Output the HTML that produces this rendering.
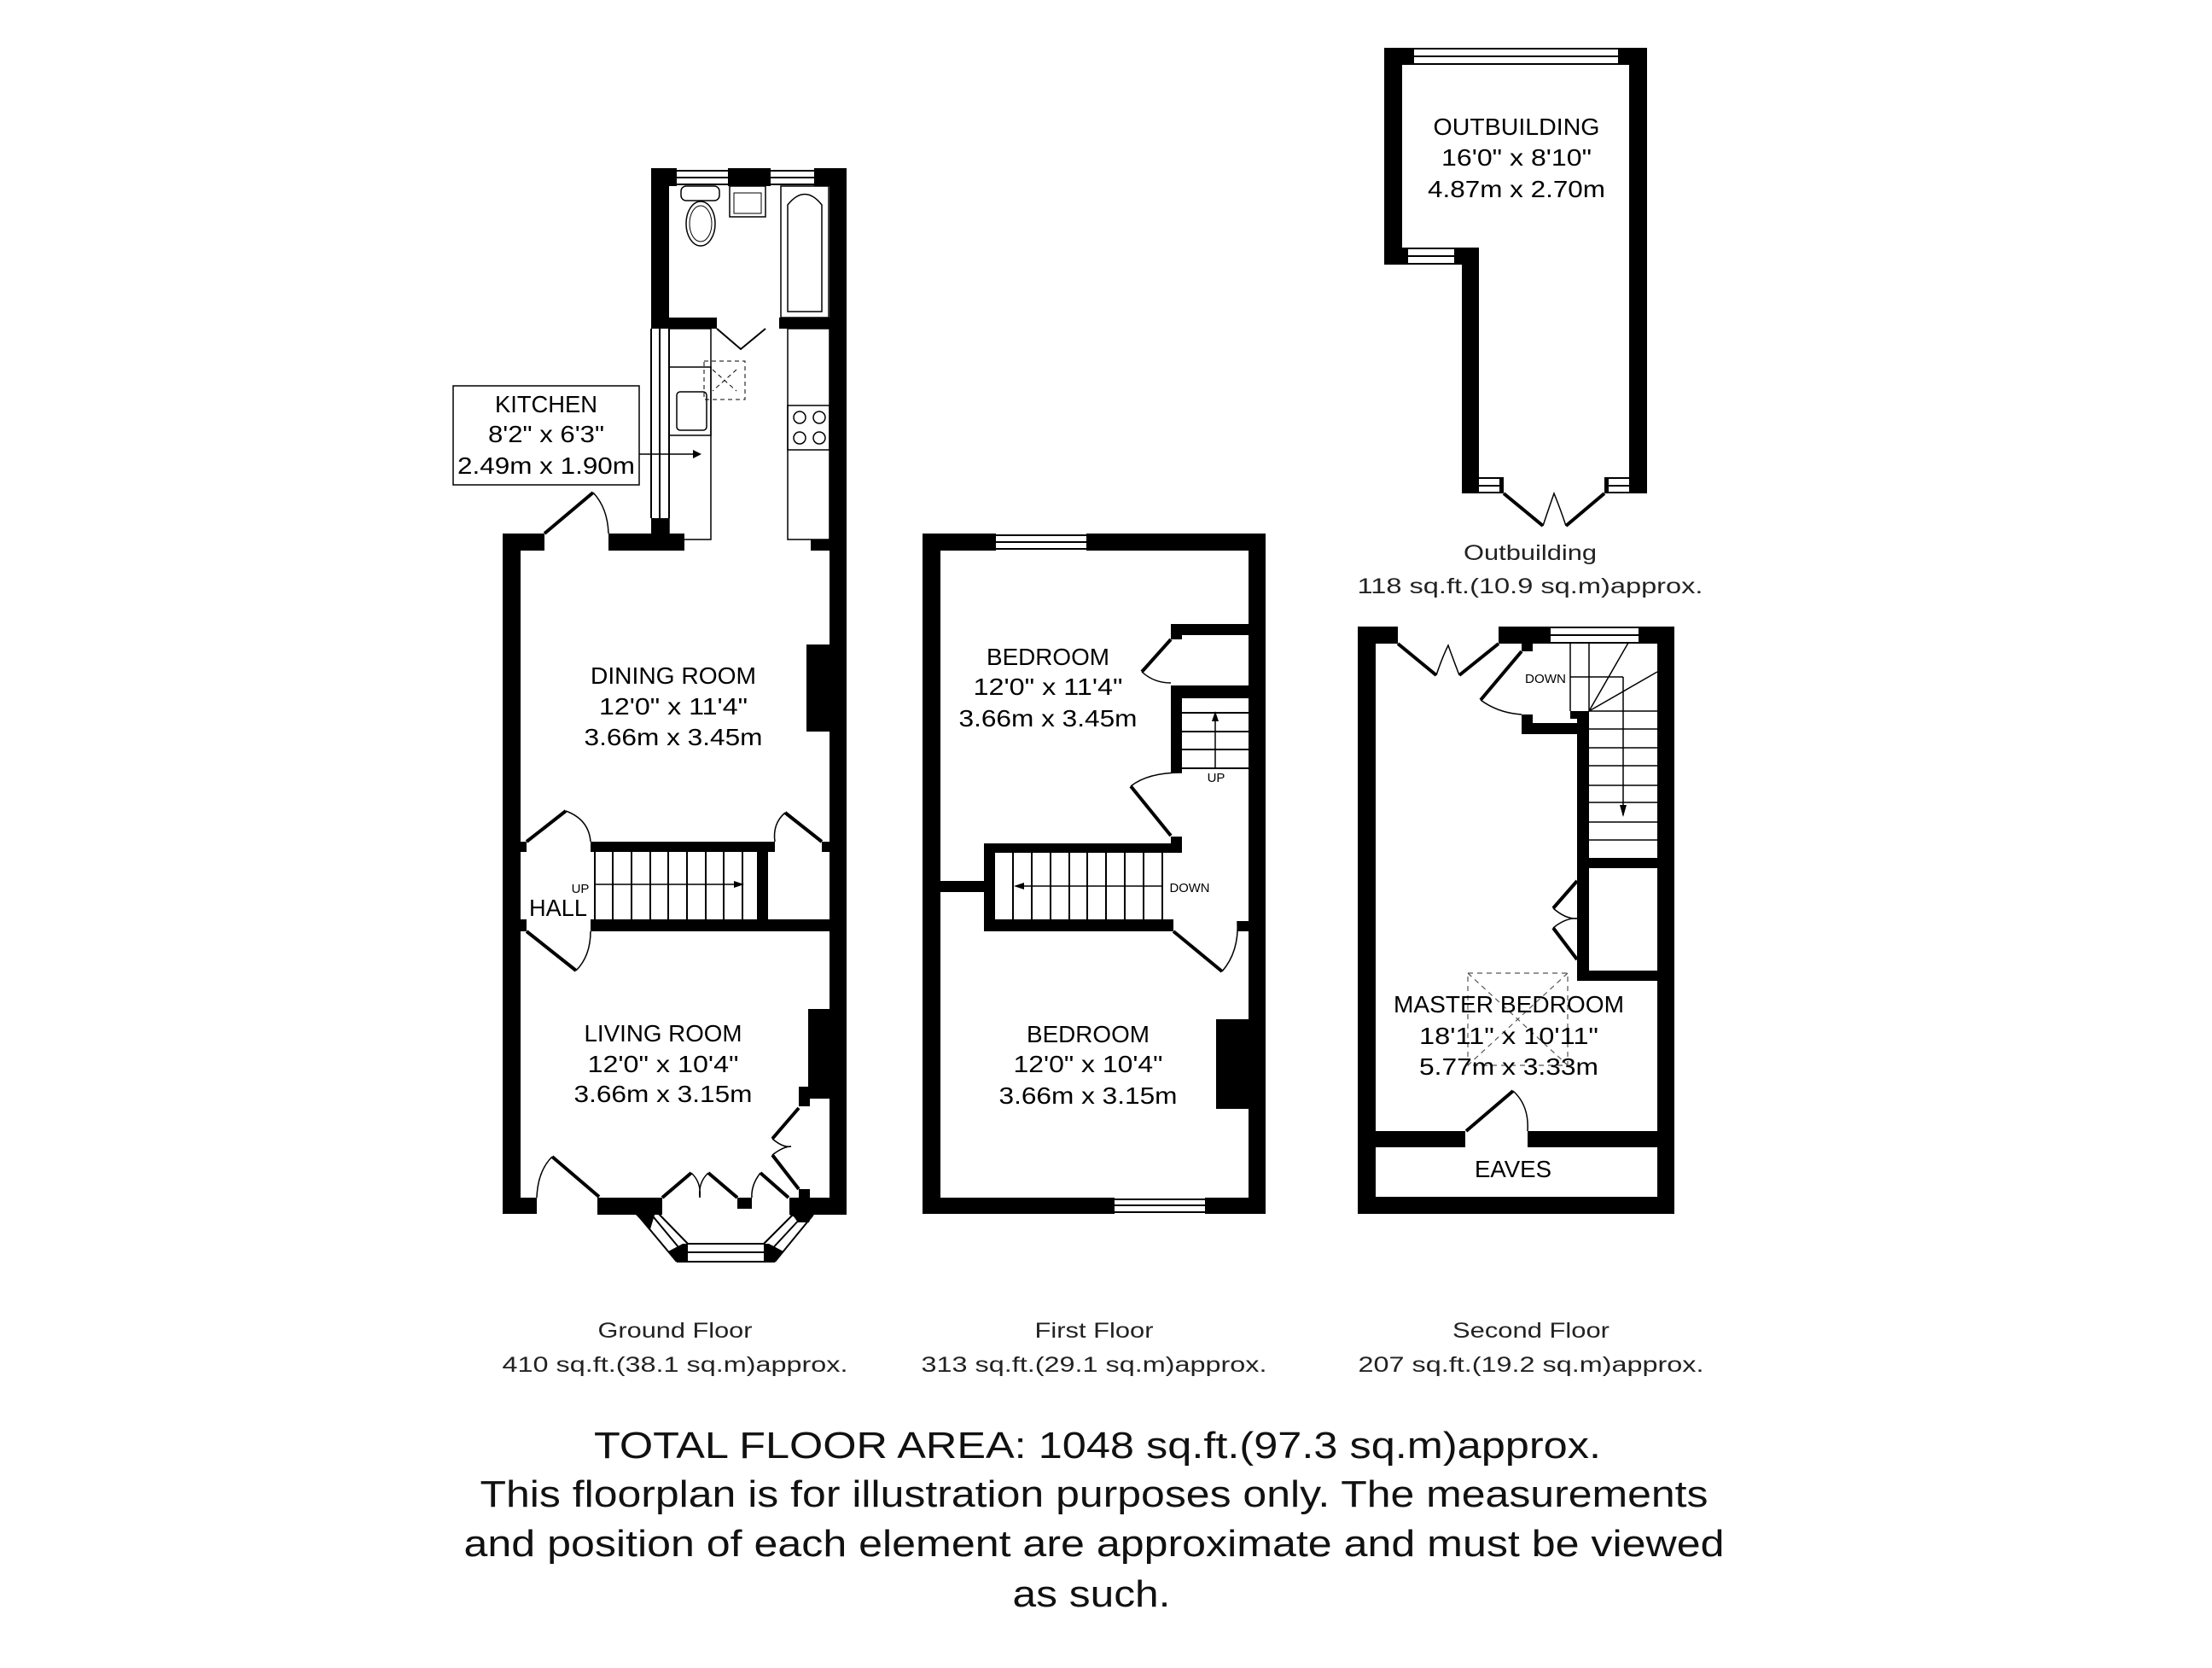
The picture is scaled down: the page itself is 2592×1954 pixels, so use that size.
<!DOCTYPE html>
<html><head><meta charset="utf-8"><style>html,body{margin:0;padding:0;background:#fff}svg{display:block}</style></head>
<body>
<svg width="2592" height="1954" viewBox="0 0 2592 1954" xmlns="http://www.w3.org/2000/svg" font-family="'Liberation Sans', sans-serif">
<rect width="2592" height="1954" fill="#fff"/>

<!-- ================= GROUND FLOOR ================= -->
<g fill="#000">
  <!-- bathroom/kitchen block -->
  <rect x="763" y="197" width="30" height="21"/>
  <rect x="853" y="197" width="50" height="21"/>
  <rect x="954" y="197" width="38" height="21"/>
  <rect x="763" y="197" width="21" height="188"/>
  <rect x="972" y="197" width="20" height="1225"/>
  <rect x="784" y="372" width="56" height="13"/>
  <rect x="913" y="372" width="59" height="13"/>
  <rect x="763" y="310" width="21" height="13"/>
  <rect x="763" y="607" width="21" height="37"/>
  <!-- dining top wall -->
  <rect x="589" y="625" width="49" height="20"/>
  <rect x="713" y="625" width="89" height="20"/>
  <rect x="950" y="632" width="30" height="13"/>
  <!-- left wall -->
  <rect x="589" y="625" width="21" height="797"/>
  <!-- dining chimney -->
  <rect x="945" y="755" width="30" height="102"/>
  <!-- hall walls -->
  <rect x="692" y="986" width="216" height="12"/>
  <rect x="692" y="1077" width="280" height="14"/>
  <rect x="887" y="998" width="13" height="79"/>
  <rect x="610" y="986" width="7" height="12"/>
  <rect x="610" y="1077" width="7" height="14"/>
  <rect x="963" y="986" width="9" height="12"/>
  <!-- living chimney -->
  <rect x="947" y="1182" width="28" height="105"/>
  <rect x="936" y="1273" width="13" height="23"/>
  <!-- bottom wall -->
  <rect x="589" y="1403" width="40" height="19"/>
  <rect x="700" y="1403" width="76" height="20"/>
  <rect x="864" y="1403" width="17" height="13"/>
  <rect x="925" y="1403" width="67" height="20"/>
  <rect x="936" y="1393" width="13" height="10"/>
  <!-- bay corners -->
  <polygon points="747,1423 776,1423 768,1418 760,1437"/>
  <polygon points="740,1418 776,1418 776,1423 768,1420 762,1440"/>
  <polygon points="783,1466 800,1457 806,1457 806,1478 793,1478"/>
  <polygon points="895,1457 901,1457 918,1466 908,1478 895,1478"/>
  <polygon points="925,1403 953,1423 945,1432 925,1423"/>
  <polygon points="925,1418 953,1418 948,1432 935,1432"/>
</g>
<g fill="none" stroke="#000" stroke-width="2">
  <!-- top windows -->
  <line x1="793" y1="200" x2="853" y2="200"/><line x1="793" y1="208" x2="853" y2="208"/><line x1="793" y1="216" x2="853" y2="216"/>
  <line x1="903" y1="200" x2="954" y2="200"/><line x1="903" y1="208" x2="954" y2="208"/><line x1="903" y1="216" x2="954" y2="216"/>
  <!-- kitchen left window -->
  <line x1="763" y1="385" x2="763" y2="607"/><line x1="773" y1="385" x2="773" y2="607"/><line x1="784" y1="385" x2="784" y2="607"/>
  <!-- bathroom door -->
  <polyline points="840,385 868,409 897,385"/>
  <!-- WC -->
  <rect x="798" y="218" width="45" height="17" rx="6" stroke-width="1.5"/>
  <ellipse cx="821" cy="262" rx="17" ry="26" stroke-width="1.5"/>
  <ellipse cx="821" cy="262" rx="13" ry="21" stroke-width="1"/>
  <!-- basin -->
  <rect x="855" y="218" width="42" height="36" stroke-width="1.5"/>
  <rect x="860" y="226" width="32" height="24" stroke-width="1"/>
  <!-- bath -->
  <rect x="915" y="218" width="56" height="154" stroke-width="1.5"/>
  <path d="M923,365 L923,240 Q943,215 963,240 L963,365 Z" stroke-width="1.5"/>
  <!-- kitchen units -->
  <rect x="784" y="385" width="49" height="247" stroke-width="1.5"/>
  <rect x="923" y="385" width="49" height="247" stroke-width="1.5"/>
  <rect x="784" y="430" width="49" height="80" stroke-width="1.5"/>
  <rect x="793" y="459" width="35" height="45" rx="4" stroke-width="1.5"/>
  <rect x="923" y="475" width="49" height="52" stroke-width="1.5"/>
  <circle cx="937" cy="489" r="7" stroke-width="1.5"/><circle cx="960" cy="489" r="7" stroke-width="1.5"/>
  <circle cx="937" cy="513" r="7" stroke-width="1.5"/><circle cx="960" cy="513" r="7" stroke-width="1.5"/>
  <rect x="825" y="423" width="48" height="45" stroke-dasharray="5,4" stroke-width="1"/>
  <line x1="835" y1="433" x2="863" y2="458" stroke-dasharray="5,4" stroke-width="1"/>
  <line x1="863" y1="433" x2="835" y2="458" stroke-dasharray="5,4" stroke-width="1"/>
  <!-- kitchen label box and arrow -->
  <rect x="531" y="452" width="218" height="116" stroke-width="1.5"/>
  <line x1="749" y1="532" x2="812" y2="532" stroke-width="1.5"/>
  <!-- dining entrance door -->
  <line x1="638" y1="625" x2="695" y2="577" stroke-width="4"/>
  <path d="M695,577 Q712,595 713,625" stroke-width="1.5"/>
  <!-- hall doors -->
  <line x1="617" y1="986" x2="663" y2="950" stroke-width="4"/>
  <path d="M663,950 Q690,960 692,986" stroke-width="1.5"/>
  <line x1="617" y1="1091" x2="675" y2="1137" stroke-width="4"/>
  <path d="M675,1137 Q692,1120 692,1091" stroke-width="1.5"/>
  <line x1="963" y1="986" x2="920" y2="952" stroke-width="4"/>
  <path d="M920,952 Q905,965 908,986" stroke-width="1.5"/>
  <!-- stairs -->
  <line x1="697" y1="998" x2="697" y2="1077"/><line x1="718" y1="998" x2="718" y2="1077"/><line x1="740" y1="998" x2="740" y2="1077"/>
  <line x1="762" y1="998" x2="762" y2="1077"/><line x1="783" y1="998" x2="783" y2="1077"/><line x1="805" y1="998" x2="805" y2="1077"/>
  <line x1="827" y1="998" x2="827" y2="1077"/><line x1="848" y1="998" x2="848" y2="1077"/><line x1="870" y1="998" x2="870" y2="1077"/>
  <line x1="697" y1="1036" x2="870" y2="1036" stroke-width="1.5"/>
  <!-- bottom doors -->
  <line x1="647" y1="1355" x2="702" y2="1402" stroke-width="4"/>
  <path d="M647,1355 Q630,1372 629,1403" stroke-width="1.5"/>
  <line x1="776" y1="1403" x2="810" y2="1374" stroke-width="4"/>
  <line x1="830" y1="1374" x2="864" y2="1403" stroke-width="4"/>
  <path d="M810,1374 Q822,1385 820,1403 M830,1374 Q818,1385 820,1403" stroke-width="1.5"/>
  <line x1="891" y1="1374" x2="924" y2="1403" stroke-width="4"/>
  <path d="M891,1374 Q880,1388 881,1403" stroke-width="1.5"/>
  <line x1="936" y1="1298" x2="905" y2="1334" stroke-width="4"/>
  <line x1="905" y1="1353" x2="936" y2="1393" stroke-width="4"/>
  <path d="M905,1334 Q918,1345 927,1343 M905,1353 Q918,1343 927,1343" stroke-width="1.5"/>
  <!-- bay window -->
  <line x1="747" y1="1423" x2="793" y2="1478"/><line x1="761" y1="1420" x2="800" y2="1467"/><line x1="768" y1="1418" x2="806" y2="1457"/>
  <line x1="793" y1="1478" x2="908" y2="1478"/><line x1="806" y1="1467" x2="895" y2="1467"/><line x1="806" y1="1457" x2="895" y2="1457"/>
  <line x1="908" y1="1478" x2="953" y2="1423"/><line x1="901" y1="1467" x2="940" y2="1425"/><line x1="895" y1="1457" x2="932" y2="1420"/>
</g>
<polygon points="812,527 822,532 812,537" fill="#000"/>
<polygon points="860,1032 872,1036 860,1040" fill="#000"/>

<!-- ================= FIRST FLOOR ================= -->
<g fill="#000">
  <rect x="1081" y="625" width="86" height="20"/>
  <rect x="1273" y="625" width="210" height="20"/>
  <rect x="1081" y="625" width="21" height="797"/>
  <rect x="1463" y="625" width="20" height="797"/>
  <rect x="1081" y="1403" width="225" height="19"/>
  <rect x="1412" y="1403" width="71" height="19"/>
  <rect x="1372" y="731" width="91" height="13"/>
  <rect x="1372" y="744" width="13" height="5"/>
  <rect x="1372" y="803" width="91" height="15"/>
  <rect x="1372" y="803" width="13" height="102"/>
  <rect x="1153" y="988" width="232" height="11"/>
  <rect x="1372" y="980" width="13" height="19"/>
  <rect x="1153" y="1077" width="222" height="14"/>
  <rect x="1153" y="988" width="13" height="103"/>
  <rect x="1102" y="1032" width="51" height="13"/>
  <rect x="1450" y="1079" width="13" height="12"/>
  <rect x="1425" y="1194" width="38" height="105"/>
</g>
<g fill="none" stroke="#000" stroke-width="2">
  <line x1="1167" y1="627" x2="1273" y2="627"/><line x1="1167" y1="635" x2="1273" y2="635"/><line x1="1167" y1="643" x2="1273" y2="643"/>
  <line x1="1306" y1="1405" x2="1412" y2="1405"/><line x1="1306" y1="1412" x2="1412" y2="1412"/><line x1="1306" y1="1420" x2="1412" y2="1420"/>
  <line x1="1372" y1="749" x2="1338" y2="787" stroke-width="4"/>
  <path d="M1338,787 Q1352,800 1372,800" stroke-width="1.5"/>
  <line x1="1385" y1="835" x2="1463" y2="835"/><line x1="1385" y1="857" x2="1463" y2="857"/>
  <line x1="1385" y1="878" x2="1463" y2="878"/><line x1="1385" y1="900" x2="1463" y2="900"/>
  <line x1="1424" y1="900" x2="1424" y2="840" stroke-width="1.5"/>
  <path d="M1385,905 Q1345,905 1325,921" stroke-width="1.5"/>
  <line x1="1325" y1="921" x2="1372" y2="979" stroke-width="4"/>
  <line x1="1187" y1="999" x2="1187" y2="1077"/><line x1="1209" y1="999" x2="1209" y2="1077"/><line x1="1231" y1="999" x2="1231" y2="1077"/>
  <line x1="1253" y1="999" x2="1253" y2="1077"/><line x1="1274" y1="999" x2="1274" y2="1077"/><line x1="1296" y1="999" x2="1296" y2="1077"/>
  <line x1="1318" y1="999" x2="1318" y2="1077"/><line x1="1340" y1="999" x2="1340" y2="1077"/><line x1="1362" y1="999" x2="1362" y2="1077"/>
  <line x1="1190" y1="1038" x2="1362" y2="1038" stroke-width="1.5"/>
  <line x1="1375" y1="1091" x2="1432" y2="1138" stroke-width="4"/>
  <path d="M1432,1138 Q1452,1115 1450,1079" stroke-width="1.5"/>
</g>
<polygon points="1420,845 1424,833 1428,845" fill="#000"/>
<polygon points="1200,1034 1188,1038 1200,1042" fill="#000"/>

<!-- ================= SECOND FLOOR ================= -->
<g fill="#000">
  <rect x="1591" y="734" width="47" height="20"/>
  <rect x="1756" y="734" width="61" height="20"/>
  <rect x="1920" y="734" width="42" height="20"/>
  <rect x="1783" y="753" width="13" height="10"/>
  <rect x="1591" y="734" width="21" height="688"/>
  <rect x="1942" y="734" width="20" height="688"/>
  <rect x="1591" y="1402" width="371" height="20"/>
  <rect x="1783" y="837" width="13" height="23"/>
  <rect x="1783" y="847" width="79" height="13"/>
  <rect x="1840" y="833" width="22" height="9"/>
  <rect x="1848" y="833" width="14" height="316"/>
  <rect x="1862" y="1005" width="80" height="12"/>
  <rect x="1848" y="1137" width="94" height="12"/>
  <rect x="1612" y="1325" width="105" height="19"/>
  <rect x="1790" y="1325" width="152" height="19"/>
</g>
<g fill="none" stroke="#000" stroke-width="2">
  <line x1="1817" y1="735" x2="1920" y2="735"/><line x1="1817" y1="744" x2="1920" y2="744"/><line x1="1817" y1="753" x2="1920" y2="753"/>
  <line x1="1638" y1="754" x2="1683" y2="791" stroke-width="4"/>
  <line x1="1756" y1="754" x2="1710" y2="791" stroke-width="4"/>
  <path d="M1683,791 Q1690,770 1697,756 Q1702,770 1710,791" stroke-width="1.5"/>
  <line x1="1783" y1="763" x2="1735" y2="820" stroke-width="4"/>
  <path d="M1735,820 Q1755,835 1783,837" stroke-width="1.5"/>
  <line x1="1840" y1="753" x2="1840" y2="833" stroke-width="1.5"/>
  <line x1="1862" y1="753" x2="1862" y2="833" stroke-width="1.5"/>
  <line x1="1862" y1="833" x2="1908" y2="753" stroke-width="1.5"/>
  <line x1="1862" y1="833" x2="1942" y2="787" stroke-width="1.5"/>
  <line x1="1840" y1="793" x2="1902" y2="793" stroke-width="1.5"/>
  <line x1="1902" y1="793" x2="1902" y2="955" stroke-width="1.5"/>
  <line x1="1862" y1="833" x2="1942" y2="833" stroke-width="1.5"/>
  <line x1="1862" y1="854" x2="1942" y2="854" stroke-width="1.5"/>
  <line x1="1862" y1="876" x2="1942" y2="876" stroke-width="1.5"/>
  <line x1="1862" y1="897" x2="1942" y2="897" stroke-width="1.5"/>
  <line x1="1862" y1="920" x2="1942" y2="920" stroke-width="1.5"/>
  <line x1="1862" y1="940" x2="1942" y2="940" stroke-width="1.5"/>
  <line x1="1862" y1="963" x2="1942" y2="963" stroke-width="1.5"/>
  <line x1="1862" y1="984" x2="1942" y2="984" stroke-width="1.5"/>
  <line x1="1848" y1="1032" x2="1820" y2="1064" stroke-width="4"/>
  <line x1="1820" y1="1087" x2="1848" y2="1124" stroke-width="4"/>
  <path d="M1820,1064 Q1835,1077 1848,1076 M1820,1087 Q1835,1075 1848,1076" stroke-width="1.5"/>
  <rect x="1720" y="1140" width="117" height="108" stroke="#555" stroke-width="1.2" stroke-dasharray="6,5"/>
  <line x1="1720" y1="1140" x2="1837" y2="1248" stroke="#555" stroke-width="1.2" stroke-dasharray="6,5"/>
  <line x1="1837" y1="1140" x2="1720" y2="1248" stroke="#555" stroke-width="1.2" stroke-dasharray="6,5"/>
  <line x1="1718" y1="1325" x2="1773" y2="1278" stroke-width="4"/>
  <path d="M1773,1278 Q1792,1295 1790,1325" stroke-width="1.5"/>
</g>
<polygon points="1898,943 1902,957 1906,943" fill="#000"/>

<!-- ================= OUTBUILDING ================= -->
<g fill="#000">
  <rect x="1622" y="56" width="35" height="20"/>
  <rect x="1896" y="56" width="34" height="20"/>
  <rect x="1622" y="56" width="21" height="254"/>
  <rect x="1909" y="56" width="21" height="522"/>
  <rect x="1622" y="290" width="28" height="20"/>
  <rect x="1704" y="290" width="29" height="20"/>
  <rect x="1713" y="290" width="20" height="288"/>
  <rect x="1757" y="559" width="5" height="19"/>
  <rect x="1880" y="559" width="5" height="19"/>
</g>
<g fill="none" stroke="#000" stroke-width="2">
  <line x1="1657" y1="57" x2="1896" y2="57"/><line x1="1657" y1="66" x2="1896" y2="66"/><line x1="1657" y1="75" x2="1896" y2="75"/>
  <line x1="1650" y1="291" x2="1704" y2="291"/><line x1="1650" y1="300" x2="1704" y2="300"/><line x1="1650" y1="309" x2="1704" y2="309"/>
  <line x1="1733" y1="560" x2="1757" y2="560"/><line x1="1733" y1="569" x2="1757" y2="569"/><line x1="1733" y1="577" x2="1757" y2="577"/>
  <line x1="1885" y1="560" x2="1909" y2="560"/><line x1="1885" y1="569" x2="1909" y2="569"/><line x1="1885" y1="577" x2="1909" y2="577"/>
  <line x1="1762" y1="578" x2="1808" y2="616" stroke-width="4"/>
  <line x1="1880" y1="578" x2="1835" y2="616" stroke-width="4"/>
  <path d="M1808,616 Q1815,595 1821,578 Q1828,595 1835,616" stroke-width="1.5"/>
</g>

<!-- ================= LABELS ================= -->
<g fill="#000" font-size="28" text-anchor="middle" lengthAdjust="spacingAndGlyphs">
  <text x="640" y="483" textLength="120" lengthAdjust="spacingAndGlyphs">KITCHEN</text>
  <text x="640" y="518" textLength="136" lengthAdjust="spacingAndGlyphs">8'2" x 6'3"</text>
  <text x="640" y="555" textLength="208" lengthAdjust="spacingAndGlyphs">2.49m x 1.90m</text>

  <text x="789" y="801" textLength="194" lengthAdjust="spacingAndGlyphs">DINING ROOM</text>
  <text x="789" y="837" textLength="174" lengthAdjust="spacingAndGlyphs">12'0" x 11'4"</text>
  <text x="789" y="873" textLength="209" lengthAdjust="spacingAndGlyphs">3.66m x 3.45m</text>

  <text x="777" y="1220" textLength="185" lengthAdjust="spacingAndGlyphs">LIVING ROOM</text>
  <text x="777" y="1256" textLength="177" lengthAdjust="spacingAndGlyphs">12'0" x 10'4"</text>
  <text x="777" y="1291" textLength="209" lengthAdjust="spacingAndGlyphs">3.66m x 3.15m</text>

  <text x="654" y="1073" textLength="68" lengthAdjust="spacingAndGlyphs">HALL</text>

  <text x="1228" y="779" textLength="144" lengthAdjust="spacingAndGlyphs">BEDROOM</text>
  <text x="1228" y="814" textLength="175" lengthAdjust="spacingAndGlyphs">12'0" x 11'4"</text>
  <text x="1228" y="851" textLength="209" lengthAdjust="spacingAndGlyphs">3.66m x 3.45m</text>

  <text x="1275" y="1221" textLength="144" lengthAdjust="spacingAndGlyphs">BEDROOM</text>
  <text x="1275" y="1256" textLength="175" lengthAdjust="spacingAndGlyphs">12'0" x 10'4"</text>
  <text x="1275" y="1293" textLength="209" lengthAdjust="spacingAndGlyphs">3.66m x 3.15m</text>

  <text x="1777" y="158" textLength="195" lengthAdjust="spacingAndGlyphs">OUTBUILDING</text>
  <text x="1777" y="194" textLength="176" lengthAdjust="spacingAndGlyphs">16'0" x 8'10"</text>
  <text x="1777" y="231" textLength="208" lengthAdjust="spacingAndGlyphs">4.87m x 2.70m</text>

  <text x="1768" y="1186" textLength="270" lengthAdjust="spacingAndGlyphs">MASTER BEDROOM</text>
  <text x="1768" y="1223" textLength="210" lengthAdjust="spacingAndGlyphs">18'11" x 10'11"</text>
  <text x="1768" y="1259" textLength="210" lengthAdjust="spacingAndGlyphs">5.77m x 3.33m</text>

  <text x="1773" y="1379" textLength="90" lengthAdjust="spacingAndGlyphs">EAVES</text>
</g>
<g fill="#000" font-size="15" text-anchor="middle">
  <text x="680" y="1046">UP</text>
  <text x="1425" y="916">UP</text>
  <text x="1394" y="1045" textLength="47" lengthAdjust="spacingAndGlyphs">DOWN</text>
  <text x="1811" y="800" textLength="48" lengthAdjust="spacingAndGlyphs">DOWN</text>
</g>

<!-- captions -->
<g fill="#222" font-size="25" text-anchor="middle">
  <text x="1793" y="656" textLength="156" lengthAdjust="spacingAndGlyphs">Outbuilding</text>
  <text x="1793" y="695" textLength="405" lengthAdjust="spacingAndGlyphs">118 sq.ft.(10.9 sq.m)approx.</text>
  <text x="791" y="1567" textLength="181" lengthAdjust="spacingAndGlyphs">Ground Floor</text>
  <text x="791" y="1607" textLength="405" lengthAdjust="spacingAndGlyphs">410 sq.ft.(38.1 sq.m)approx.</text>
  <text x="1282" y="1567" textLength="139" lengthAdjust="spacingAndGlyphs">First Floor</text>
  <text x="1282" y="1607" textLength="405" lengthAdjust="spacingAndGlyphs">313 sq.ft.(29.1 sq.m)approx.</text>
  <text x="1794" y="1567" textLength="184" lengthAdjust="spacingAndGlyphs">Second Floor</text>
  <text x="1794" y="1607" textLength="405" lengthAdjust="spacingAndGlyphs">207 sq.ft.(19.2 sq.m)approx.</text>
</g>
<g fill="#111" font-size="44" text-anchor="middle">
  <text x="1286" y="1708" textLength="1180" lengthAdjust="spacingAndGlyphs">TOTAL FLOOR AREA: 1048 sq.ft.(97.3 sq.m)approx.</text>
  <text x="1282" y="1765" textLength="1439" lengthAdjust="spacingAndGlyphs">This floorplan is for illustration purposes only. The measurements</text>
  <text x="1282" y="1823" textLength="1477" lengthAdjust="spacingAndGlyphs">and position of each element are approximate and must be viewed</text>
  <text x="1279" y="1882" textLength="185" lengthAdjust="spacingAndGlyphs">as such.</text>
</g>
</svg>
</body></html>
